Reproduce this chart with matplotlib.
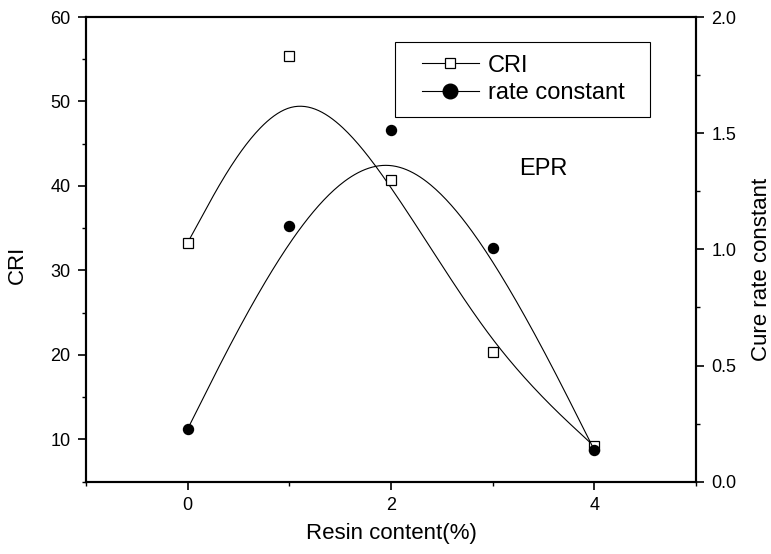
import numpy as np
import matplotlib.pyplot as plt
from matplotlib.lines import Line2D
from matplotlib.legend_handler import HandlerLine2D
from matplotlib.ticker import MultipleLocator

plt.rcParams['font.family'] = ['Liberation Sans', 'DejaVu Sans']

# data
resin = [0, 1, 2, 3, 4]
cri = [33.3, 55.35, 40.76, 20.34, 9.17]
rate = [0.227, 1.10, 1.514, 1.006, 0.136]


def bspline(xs, ys, n=60):
    # uniform cubic B-spline, end points repeated so the curve starts/ends on them
    pts = np.column_stack([xs, ys]).astype(float)
    pts = np.vstack([pts[:1], pts[:1], pts, pts[-1:], pts[-1:]])
    t = np.linspace(0, 1, n)
    b = np.column_stack([(1 - t) ** 3,
                         3 * t ** 3 - 6 * t ** 2 + 4,
                         -3 * t ** 3 + 3 * t ** 2 + 3 * t + 1,
                         t ** 3]) / 6
    segs = [b @ pts[i:i + 4] for i in range(len(pts) - 3)]
    c = np.vstack(segs)
    return c[:, 0], c[:, 1]


fig = plt.figure(figsize=(7.71, 5.54), dpi=100)
ax = fig.add_axes([86 / 771, 72.3 / 554, 610 / 771, 464.7 / 554])
ax2 = ax.twinx()

# CRI on the left axis
sx, sy = bspline(resin, cri)
ax.plot(sx, sy, color='k', lw=0.8)
ax.plot(resin, cri, ls='none', marker='s', ms=6.5, mfc='white', mec='k', mew=0.9)

# rate constant on the right axis
rx, ry = bspline(resin, rate)
ax2.plot(rx, ry, color='k', lw=0.8)
ax2.plot(resin, rate, ls='none', marker='o', ms=7.2, color='k')

ax.set_xlim(-1, 5)
ax.set_ylim(5, 60)
ax2.set_ylim(0, 2)

ax.xaxis.set_major_locator(MultipleLocator(2))
ax.xaxis.set_minor_locator(MultipleLocator(1))
ax.yaxis.set_major_locator(MultipleLocator(10))
ax.yaxis.set_minor_locator(MultipleLocator(5))
ax2.yaxis.set_major_locator(MultipleLocator(0.5))
ax2.yaxis.set_minor_locator(MultipleLocator(0.25))

for a in (ax, ax2):
    for s in a.spines.values():
        s.set_linewidth(1.5)
ax.tick_params(which='major', direction='out', length=6, width=1.2, labelsize=13,
               top=False, right=False, pad=5)
ax.tick_params(which='minor', direction='out', length=3, width=1.0, top=False, right=False)
ax2.tick_params(which='major', direction='out', length=6, width=1.2, labelsize=13, pad=5)
ax2.tick_params(which='minor', direction='out', length=3, width=1.0)

ax.set_xlabel('Resin content(%)', fontsize=16)
ax.set_ylabel('CRI', fontsize=16)
ax2.set_ylabel('Cure rate constant', fontsize=16)
ax.xaxis.label.set_va('center')
ax.xaxis.set_label_coords(0.5, -0.112)
ax.yaxis.label.set_va('center')
ax.yaxis.set_label_coords(-0.113, 0.466)
ax2.yaxis.label.set_va('center')
ax2.yaxis.set_label_coords(1.107, 0.456)

ax.text(3.5, 42, 'EPR', fontsize=17, ha='center', va='center')

h_cri = Line2D([], [], color='k', lw=0.8, marker='s', ms=7, mfc='white', mec='k', mew=0.9)
h_rate = Line2D([], [], color='k', lw=0.8, marker='o', ms=10.5)
hp = HandlerLine2D(xpad=0.59)
leg = ax2.legend([h_cri, h_rate], ['CRI', 'rate constant'], fontsize=17,
                 loc='upper left', mode='expand', borderaxespad=0,
                 bbox_to_anchor=(395 / 771, 1 - 113.3 / 554, 255 / 771, 71.6 / 554),
                 bbox_transform=fig.transFigure,
                 handlelength=3.0, handletextpad=0.38, borderpad=0.55, labelspacing=0.245,
                 fancybox=False, framealpha=1, edgecolor='k',
                 handler_map={h_cri: hp, h_rate: hp})
leg.get_frame().set_linewidth(0.8)

fig.savefig('out.png', dpi=100)
